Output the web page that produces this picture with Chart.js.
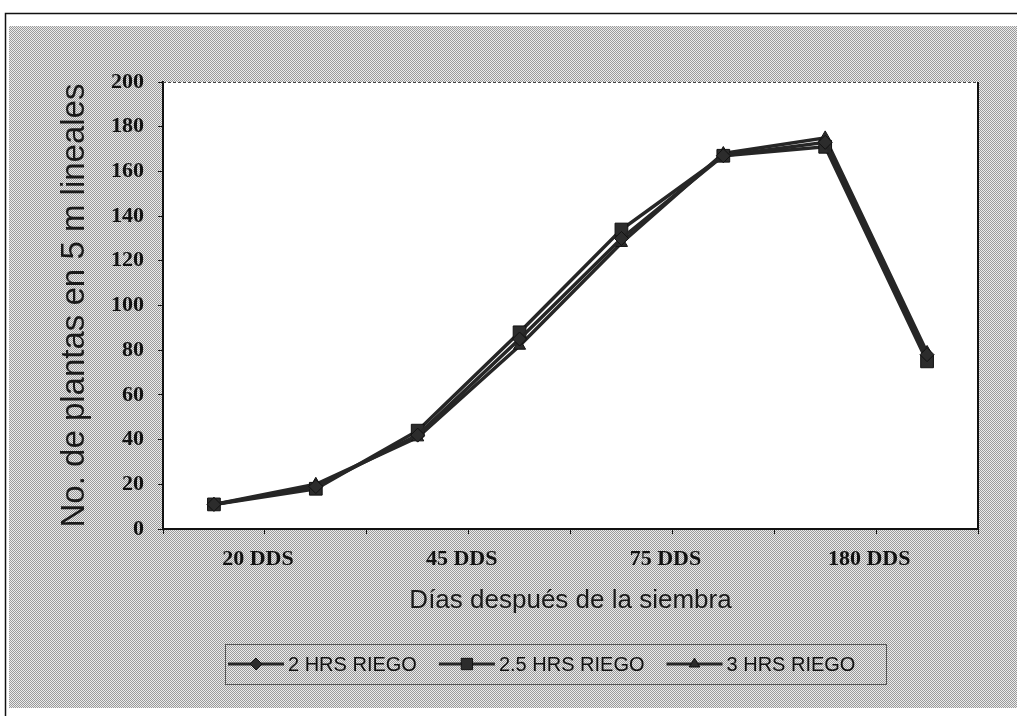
<!DOCTYPE html>
<html>
<head>
<meta charset="utf-8">
<title>Plantas en 5 m lineales</title>
<script src="https://cdn.jsdelivr.net/npm/chart.js@4.4.0/dist/chart.umd.min.js"></script>
<style>
  html, body { margin: 0; padding: 0; background: #fff; }
  #c { display: block; }
</style>
</head>
<body>
<canvas id="c" width="1017" height="716"></canvas>
<script>
// Sampling dates (only every other one carries a label on the axis)
const tickLabels = ['20 DDS', '', '45 DDS', '', '75 DDS', '', '180 DDS', ''];

// Plants counted in 5 linear metres, per irrigation treatment
const riego2h  = [11, 19, 42, 85, 130, 167, 173, 78];
const riego25h = [11, 18, 44, 88, 134, 167, 171, 75];
const riego3h  = [11, 20, 41, 82, 128, 168, 175, 79];

const seriesNames = ['2 HRS RIEGO', '2.5 HRS RIEGO', '3 HRS RIEGO'];

const yTicksMin = 0, yTicksMax = 200, yTicksStep = 20;

// Grey halftone used for the page panel behind the plot
function ditherPattern(ctx) {
  const c = document.createElement('canvas');
  c.width = 2; c.height = 2;
  const g = c.getContext('2d');
  g.fillStyle = '#ebebeb'; g.fillRect(0, 0, 2, 2);
  g.fillStyle = '#9a9a9a'; g.fillRect(0, 0, 1, 1); g.fillRect(1, 1, 1, 1);
  return ctx.createPattern(c, 'repeat');
}

function markerPath(ctx, style, x, y, r) {
  ctx.beginPath();
  if (style === 'rectRot') {
    ctx.moveTo(x, y - r); ctx.lineTo(x + r, y); ctx.lineTo(x, y + r); ctx.lineTo(x - r, y);
  } else if (style === 'rect') {
    const s = r * Math.SQRT1_2;
    ctx.rect(x - s, y - s, 2 * s, 2 * s);
  } else {
    ctx.moveTo(x, y - r); ctx.lineTo(x + r * 0.87, y + r * 0.5); ctx.lineTo(x - r * 0.87, y + r * 0.5);
  }
  ctx.closePath();
}

// Boxed legend with a line-and-marker sample per series
function drawLegend(chart) {
  const ctx = chart.ctx;
  const box = { l: 225, t: 644, r: 886, b: 684 };
  const cy = (box.t + box.b) / 2;
  ctx.save();
  ctx.strokeStyle = '#555';
  ctx.lineWidth = 1;
  ctx.strokeRect(box.l + 0.5, box.t + 0.5, box.r - box.l, box.b - box.t);
  ctx.font = '20px "Liberation Sans", Arial, sans-serif';
  ctx.textBaseline = 'middle';
  ctx.textAlign = 'left';
  let x = box.l + 3;
  chart.data.datasets.forEach((ds) => {
    ctx.strokeStyle = ds.borderColor;
    ctx.lineWidth = 3;
    ctx.beginPath(); ctx.moveTo(x, cy); ctx.lineTo(x + 56, cy); ctx.stroke();
    ctx.fillStyle = ds.pointBackgroundColor;
    ctx.strokeStyle = ds.pointBorderColor;
    ctx.lineWidth = 1;
    markerPath(ctx, ds.pointStyle, x + 28, cy, ds.pointRadius - 1);
    ctx.fill(); ctx.stroke();
    ctx.fillStyle = '#111';
    ctx.fillText(ds.label, x + 60, cy + 1);
    x += 60 + ctx.measureText(ds.label).width + 22;
  });
  ctx.restore();
}

const pageDecor = {
  id: 'pageDecor',
  beforeDraw(chart) {
    const { ctx, chartArea: a, width, height } = chart;
    ctx.save();
    ctx.fillStyle = '#fff';
    ctx.fillRect(0, 0, width, height);
    ctx.fillStyle = ditherPattern(ctx);
    ctx.fillRect(9, 26, width - 9, 682);
    ctx.strokeStyle = '#111';
    ctx.lineWidth = 1.5;
    ctx.beginPath();
    ctx.moveTo(5.5, height); ctx.lineTo(5.5, 13.5); ctx.lineTo(width, 13.5);
    ctx.stroke();
    ctx.fillStyle = '#fff';
    ctx.fillRect(a.left, a.top, a.right - a.left, a.bottom - a.top);
    ctx.restore();
  },
  afterDraw(chart) {
    const { ctx, chartArea: a } = chart;
    ctx.save();
    ctx.strokeStyle = '#111';
    ctx.lineWidth = 2;
    ctx.beginPath(); ctx.moveTo(a.right, a.top); ctx.lineTo(a.right, a.bottom + 1); ctx.stroke();
    ctx.lineWidth = 1;
    ctx.strokeStyle = '#444';
    ctx.setLineDash([3, 2]);
    ctx.beginPath(); ctx.moveTo(a.left, a.top + 0.5); ctx.lineTo(a.right, a.top + 0.5); ctx.stroke();
    ctx.restore();
    drawLegend(chart);
  }
};

const tickFont = { family: '"Liberation Serif", "Times New Roman", serif', weight: 'bold', size: 22 };
const titleFamily = '"Liberation Sans", Arial, sans-serif';

const lineStyle = (label, data, pointStyle, radius) => ({
  label, data, pointStyle,
  borderColor: '#262626',
  backgroundColor: '#262626',
  borderWidth: 3.5,
  pointRadius: radius,
  pointBackgroundColor: '#2c2c2c',
  pointBorderColor: '#111',
  pointBorderWidth: 1,
  tension: 0,
  fill: false
});

new Chart(document.getElementById('c'), {
  type: 'line',
  data: {
    labels: tickLabels,
    datasets: [
      lineStyle(seriesNames[0], riego2h, 'rectRot', 7),
      lineStyle(seriesNames[1], riego25h, 'rect', 9),
      lineStyle(seriesNames[2], riego3h, 'triangle', 7)
    ]
  },
  options: {
    responsive: false,
    animation: false,
    devicePixelRatio: 1,
    layout: { padding: { left: 0, right: 39, top: 82, bottom: 0 } },
    plugins: { legend: { display: false }, tooltip: { enabled: false } },
    scales: {
      x: {
        type: 'category',
        offset: true,
        grid: { offset: true, drawOnChartArea: false, drawTicks: true, tickLength: 5, color: '#111', lineWidth: 1 },
        border: { display: true, color: '#111', width: 2 },
        ticks: {
          autoSkip: false, maxRotation: 0, minRotation: 0,
          labelOffset: 44, padding: 12, color: '#111', font: tickFont
        },
        title: {
          display: true, text: 'Días después de la siembra', color: '#1a1a1a',
          font: { family: titleFamily, size: 26 }, padding: { top: 0, bottom: 100 }
        },
        afterFit(s) { s.height = 187; }
      },
      y: {
        min: yTicksMin, max: yTicksMax,
        ticks: { stepSize: yTicksStep, padding: 14, color: '#111', font: tickFont },
        grid: { drawOnChartArea: false, drawTicks: true, tickLength: 5, color: '#111' },
        border: { display: true, color: '#111', width: 2 },
        title: {
          display: true, text: 'No. de plantas en 5 m lineales', color: '#1a1a1a',
          font: { family: titleFamily, size: 33 }, padding: { top: 55, bottom: 0 }
        },
        afterFit(s) { s.width = 163; }
      }
    }
  },
  plugins: [pageDecor]
});
</script>
</body>
</html>
